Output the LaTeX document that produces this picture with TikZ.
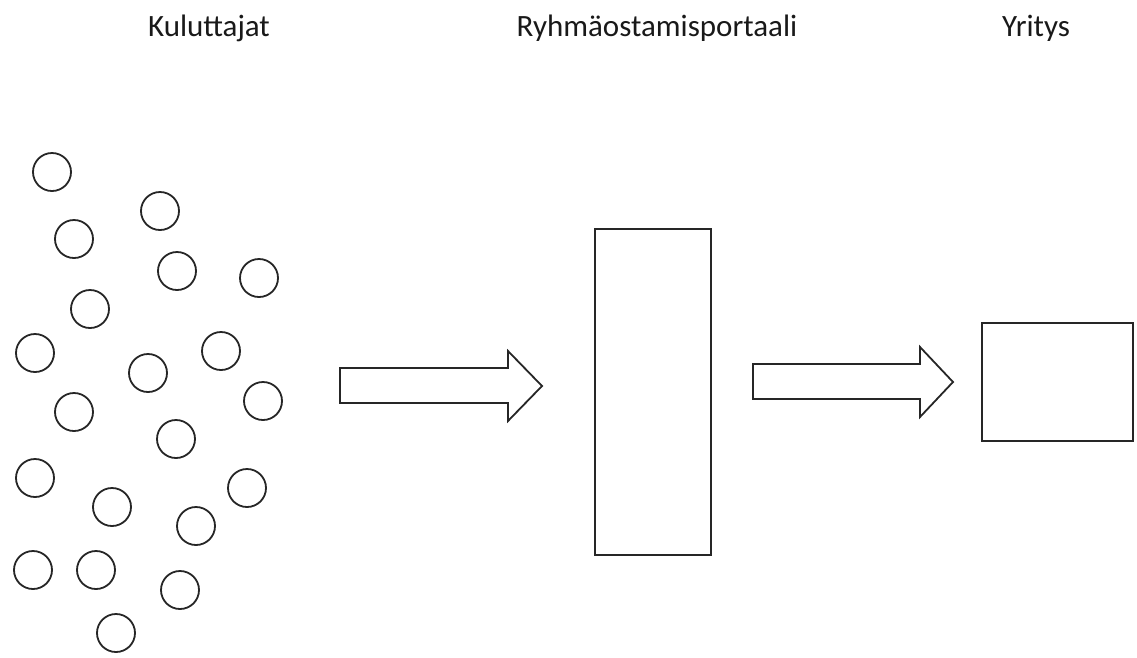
\documentclass[tikz,border=0pt]{standalone}
\usepackage{fontspec}
\setmainfont{Carlito}
\begin{document}
\begin{tikzpicture}[x=1pt,y=-1pt,
  outline/.style={draw=black!85,line width=1.8pt,line join=miter},
  person/.style={outline,circle,minimum size=38pt,inner sep=0pt},
  heading/.style={anchor=base,font=\fontsize{31}{36}\selectfont,text=black!90}]
\useasboundingbox (0,0) rectangle (1137,657);

% column headings
\node[heading] (hk) at (209,36) {Kuluttajat};
\node[heading] (hr) at (657,36) {Ryhmäostamisportaali};
\node[heading] (hy) at (1036,36) {Yritys};

% consumers
\foreach \n/\px/\py in {1/52/172, 2/160/211, 3/74/239, 4/177/271, 5/259/278,
  6/90/309, 7/35/353, 8/221/351, 9/148/373, 10/263/401, 11/74/412,
  12/176/439, 13/35/478, 14/247/488, 15/112/507, 16/196/526,
  17/33/570, 18/96/570, 19/180/590, 20/116/633}
  \node[person] (c\n) at (\px,\py) {};

% group-buying portal
\draw[outline] (595,229) rectangle (711,555);
% company
\draw[outline] (982,323) rectangle (1133,441);

% block arrows
\draw[outline] (340,368) -- (508,368) -- (508,351) -- (542,386) -- (508,421)
  -- (508,403) -- (340,403) -- cycle;
\draw[outline] (753,364) -- (920,364) -- (920,347) -- (953,382) -- (920,417)
  -- (920,399) -- (753,399) -- cycle;
\end{tikzpicture}
\end{document}
